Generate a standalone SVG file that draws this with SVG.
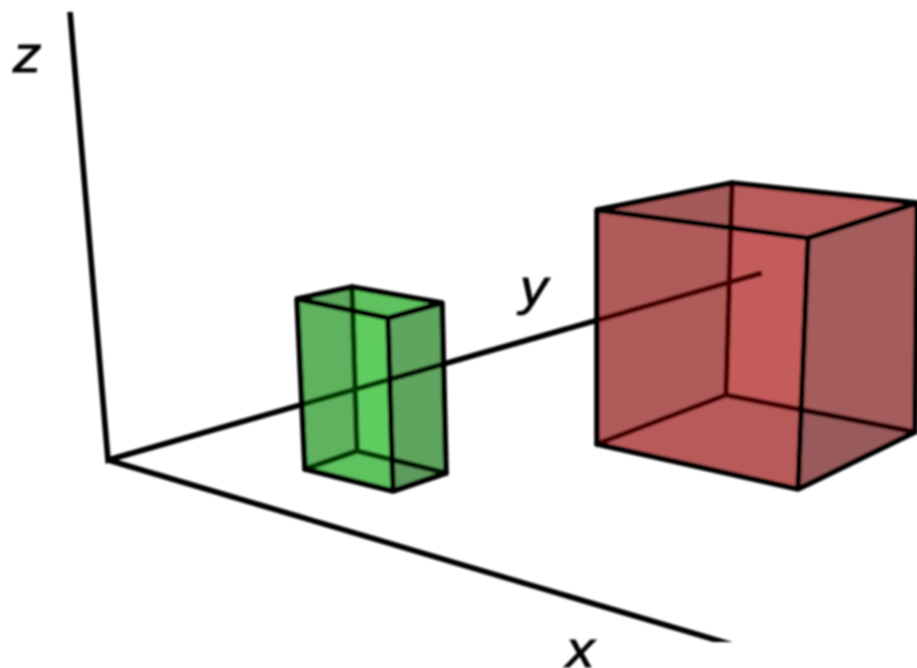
<svg xmlns="http://www.w3.org/2000/svg" width="917" height="668" viewBox="0 0 917 668">
  <style>
    .e { fill: none; stroke: #000; stroke-width: 5.6; stroke-linecap: round; stroke-linejoin: round; }
    .axis { fill: none; stroke: #000; stroke-width: 5.6; stroke-linecap: butt; stroke-linejoin: miter; }
    .lbl { font-family: "Liberation Sans", Arial, sans-serif; font-style: italic; font-size: 50px; fill: #000; stroke: #000; stroke-width: 0.8; }
    .o { fill-opacity: 0.3; }
  </style>
  <defs>
    <filter id="soft" x="-5%" y="-5%" width="110%" height="110%"><feGaussianBlur stdDeviation="0.8"/></filter>
    <clipPath id="frame"><rect x="0" y="12" width="917" height="630"/></clipPath>
  </defs>
  <rect width="917" height="668" fill="#fff"/>
  <g filter="url(#soft)">
    <g id="green-box-back">
      <polygon fill="#88ab88" points="297,299 352,287 357,451 305,469"/>
      <polygon fill="#89ce89" points="352,287 442,303 446,473 357,451"/>
      <polygon fill="#88c188" points="305,469 357,451 446,473 393,491"/>
    </g>
    <g id="red-box-back">
      <polygon fill="#958181" points="597,210 732,183 726,395 597,444"/>
      <polygon fill="#b48383" points="732,183 917,203 915,432 726,395"/>
      <polygon fill="#a38282" points="597,444 726,395 915,432 798,489"/>
    </g>
    <g id="connectors" clip-path="url(#frame)">
      <path class="axis" d="M69,0L108,460L762,273"/>
      <path class="axis" d="M108,460L750,650"/>
    </g>
    <g id="green-box">
      <path class="e" d="M352,287L357,451M305,469L357,451L446,473"/>
      <polygon class="o" fill="#00c800" points="297,299 388,318 393,491 305,469"/>
      <polygon class="o" fill="#004600" points="388,318 442,303 446,473 393,491"/>
      <polygon class="o" fill="#00a700" points="297,299 352,287 442,303 388,318"/>
      <path class="e" d="M297,299L352,287L442,303L446,473L393,491L305,469ZM297,299L388,318L442,303M388,318L393,491"/>
    </g>
    <g id="red-box">
      <path class="e" d="M732,183L726,395M597,444L726,395L915,432"/>
      <polygon class="o" fill="#f00000" points="597,210 808,238 798,489 597,444"/>
      <polygon class="o" fill="#820000" points="808,238 917,203 915,432 798,489"/>
      <polygon class="o" fill="#cb0000" points="597,210 732,183 917,203 808,238"/>
      <path class="e" d="M597,210L732,183L917,203L915,432L798,489L597,444ZM597,210L808,238L917,203M808,238L798,489"/>
    </g>
    <text class="lbl" transform="translate(13 72) scale(1.14 1)">z</text>
    <text class="lbl" transform="translate(520 305) scale(1.1 1)">y</text>
    <text class="lbl" transform="translate(566 667) scale(1.14 1)">x</text>
  </g>
</svg>
